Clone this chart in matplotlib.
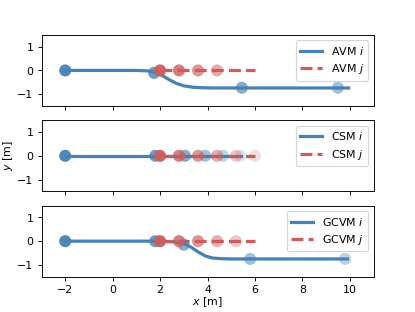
import matplotlib.pyplot as plt
from matplotlib.colors import to_rgba

BLUE = "steelblue"
RED = "indianred"

models = ["AVM", "CSM", "GCVM"]

# agent i trajectories (lines)
avm_i_x = [-2, 1.0, 1.5, 1.8, 2.1, 2.4, 2.7, 3.0, 3.4, 3.8, 4.2, 9.95]
avm_i_y = [0, 0, -0.02, -0.08, -0.22, -0.40, -0.55, -0.65, -0.71, -0.73, -0.74, -0.74]
csm_i_x = [-2, 5.4]
csm_i_y = [0, 0]
gcvm_i_x = [-2, 2.0, 2.6, 3.0, 3.3, 3.6, 3.9, 4.2, 4.6, 5.0, 9.9]
gcvm_i_y = [0, 0, -0.03, -0.1, -0.25, -0.45, -0.62, -0.71, -0.74, -0.75, -0.75]

# agent j trajectories (lines)
avm_j_x = [2.0, 6.0]
avm_j_y = [0, 0]
csm_j_x = [2.0, 6.0]
csm_j_y = [0, 0]
gcvm_j_x = [2.0, 6.0]
gcvm_j_y = [0, 0]

# snapshot markers for agent i
avm_i_mx = [-2, 1.75, 5.45, 9.5]
avm_i_my = [0, -0.1, -0.73, -0.73]
csm_i_mx = [-2, 1.8, 3.05, 3.9, 4.65, 5.4]
csm_i_my = [0, 0, 0, 0, 0, 0]
gcvm_i_mx = [-2, 1.8, 3.0, 5.8, 9.8]
gcvm_i_my = [0, 0, -0.15, -0.75, -0.75]

# snapshot markers for agent j
avm_j_mx = [2.0, 2.8, 3.6, 4.4]
avm_j_my = [0, 0, 0, 0]
csm_j_mx = [2.0, 2.8, 3.6, 4.4, 5.2, 6.0]
csm_j_my = [0, 0, 0, 0, 0, 0]
gcvm_j_mx = [2.0, 2.8, 3.6, 4.4, 5.2]
gcvm_j_my = [0, 0, 0, 0, 0]

marker_alpha = [0.95, 0.8, 0.65, 0.5, 0.35, 0.2]

lines_i = [(avm_i_x, avm_i_y), (csm_i_x, csm_i_y), (gcvm_i_x, gcvm_i_y)]
lines_j = [(avm_j_x, avm_j_y), (csm_j_x, csm_j_y), (gcvm_j_x, gcvm_j_y)]
marks_i = [(avm_i_mx, avm_i_my), (csm_i_mx, csm_i_my), (gcvm_i_mx, gcvm_i_my)]
marks_j = [(avm_j_mx, avm_j_my), (csm_j_mx, csm_j_my), (gcvm_j_mx, gcvm_j_my)]

plt.rcParams["font.size"] = 9.5

fig, axes = plt.subplots(3, 1, sharex=True, figsize=(5.0, 3.76), dpi=83)
fig.subplots_adjust(left=0.1, right=0.9, top=0.888, bottom=0.113, hspace=0.2)

for k, ax in enumerate(axes):
    name = models[k]
    xi, yi = lines_i[k]
    xj, yj = lines_j[k]
    ax.plot(xi, yi, color=BLUE, lw=2.8, label=f"{name} $i$")
    ax.plot(xj, yj, color=RED, lw=2.8, ls="--", label=f"{name} $j$")

    mx, my = marks_i[k]
    cols = [to_rgba(BLUE, marker_alpha[n]) for n in range(len(mx))]
    ax.scatter(mx, my, s=110, c=cols, edgecolors="none", zorder=3)
    mx, my = marks_j[k]
    cols = [to_rgba(RED, marker_alpha[n]) for n in range(len(mx))]
    ax.scatter(mx, my, s=110, c=cols, edgecolors="none", zorder=3)

    ax.set_xlim(-3, 11)
    ax.set_ylim(-1.5, 1.5)
    ax.set_yticks([-1, 0, 1])
    ax.legend(loc="upper right")

axes[1].set_ylabel("$y$ [m]", labelpad=2)
axes[2].set_xlabel("$x$ [m]", labelpad=0)
axes[2].set_xticks([-2, 0, 2, 4, 6, 8, 10])

fig.savefig("out.png")
